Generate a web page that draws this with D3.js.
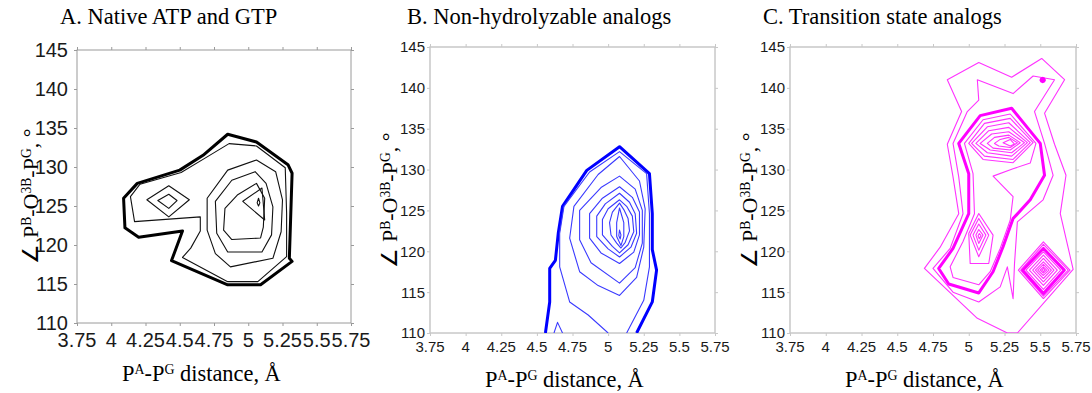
<!DOCTYPE html>
<html>
<head>
<meta charset="utf-8">
<script src="https://cdn.jsdelivr.net/npm/d3@7"></script>
<style>
  body { margin: 0; background: #fff; }
</style>
</head>
<body>
<div id="chart"></div>
<script>
// axis ticks
const xTicks = [3.75, 4, 4.25, 4.5, 4.75, 5, 5.25, 5.5, 5.75];
const yTicks = [110, 115, 120, 125, 130, 135, 140, 145];
const titles = ['A. Native ATP and GTP', 'B. Non-hydrolyzable analogs', 'C. Transition state analogs'];

// contour lines, [P-P distance, angle]

// A. native
const nativeOuter = [[4.09,126.0],[4.19,127.9],[4.50,129.6],[4.67,131.5],[4.85,134.2],[5.06,133.2],[5.29,130.3],[5.32,129.2],[5.30,118.3],[5.32,117.9],[5.09,114.9],[4.85,114.9],[4.44,118.0],[4.52,121.8],[4.20,121.0],[4.10,122.2]];
const native2 = [[4.14,126.2],[4.21,127.8],[4.51,129.3],[4.70,131.3],[4.86,133.0],[5.06,132.7],[5.27,129.9],[5.28,124.1],[5.28,118.5],[5.07,115.3],[4.85,115.3],[4.52,118.4],[4.58,119.6],[4.65,121.8],[4.65,123.6],[4.17,123.0]];
const nativeLeft1 = [[4.26,125.8],[4.42,127.6],[4.57,125.8],[4.42,123.6]];
const nativeLeft2 = [[4.34,125.7],[4.42,126.5],[4.48,125.7],[4.42,124.7]];
const nativeR1 = [[4.70,126.0],[4.85,129.6],[5.06,130.9],[5.20,129.4],[5.25,125.8],[5.24,121.7],[5.18,118.3],[4.87,117.2],[4.76,118.9],[4.70,121.9]];
const nativeR2 = [[4.76,125.6],[4.88,128.3],[5.05,129.4],[5.13,127.9],[5.18,124.9],[5.17,121.3],[5.10,119.1],[4.85,119.1],[4.77,121.5]];
const nativeR3 = [[4.83,124.7],[4.92,126.4],[5.06,127.9],[5.12,126.0],[5.11,122.3],[5.09,120.9],[4.88,120.7],[4.82,121.9]];
const nativeR4 = [[4.96,125.6],[5.10,127.3],[5.12,123.2]];
const nativeR5 = [[5.065,125.4],[5.075,126.0],[5.085,125.4],[5.075,125.0]];

// B. non-hydrolyzable
const analogOuter = [[4.56,110],[4.59,113.8],[4.59,117.9],[4.63,118.9],[4.65,122.2],[4.68,125.5],[4.85,129.9],[5.08,132.8],[5.29,129.5],[5.31,124.6],[5.31,120.2],[5.34,117.7],[5.31,113.8],[5.20,110]];
const analog2 = [[5.00,110],[4.86,112.2],[4.73,113.8],[4.66,118.1],[4.66,122.2],[4.69,125.5],[4.87,129.7],[5.08,132.2],[5.27,129.5],[5.29,124.6],[5.29,118.1],[5.25,114.0],[5.13,110]];
const analogSpike = [[4.62,110],[4.645,111.3],[4.68,110]];
const analogL1 = [[5.08,131.6],[4.93,129.4],[4.76,125.5],[4.73,121.6],[4.80,117.5],[4.93,115.8],[5.08,114.6],[5.20,116.8],[5.25,120.5],[5.26,125.2],[5.22,128.6]];
const analogL2 = [[5.08,129.2],[4.95,127.8],[4.80,125.0],[4.80,121.4],[4.88,118.6],[5.08,116.1],[5.19,118.0],[5.24,121.0],[5.24,125.0],[5.19,127.6]];
const analogL3 = [[5.08,127.9],[4.96,126.5],[4.87,124.6],[4.87,121.6],[4.95,119.8],[5.08,118.5],[5.18,119.9],[5.22,122.0],[5.22,124.8],[5.17,126.6]];
const analogL4 = [[5.08,127.1],[4.98,125.8],[4.92,124.3],[4.92,121.8],[5.00,120.3],[5.08,119.3],[5.16,120.5],[5.20,122.2],[5.19,124.6],[5.15,126.0]];
const analogL5 = [[5.08,126.3],[5.00,125.2],[4.96,123.9],[4.96,122.0],[5.03,120.6],[5.08,119.8],[5.14,120.8],[5.18,122.4],[5.17,124.3],[5.13,125.5]];
const analogL6 = [[5.08,125.9],[5.03,124.8],[5.01,123.5],[5.02,122.0],[5.06,121.0],[5.09,120.4],[5.12,121.1],[5.15,122.5],[5.14,124.0],[5.11,125.1]];
const analogL7 = [[5.08,125.3],[5.06,123.5],[5.06,121.8],[5.09,120.7],[5.11,121.8],[5.11,123.5]];
const analogL8 = [[5.08,122.6],[5.075,121.9],[5.085,121.5],[5.09,122.0]];

// C. transition state
const tsOuter1 = [[4.85,141.0],[5.07,143.1],[5.30,141.3],[5.51,143.6],[5.67,141.0],[5.53,136.9],[5.60,133.1],[5.68,129.3],[5.64,124.6],[5.73,117.8],[5.34,110.0],[5.27,110.0],[5.06,111.8],[4.69,117.9],[4.80,120.5],[4.93,124.6],[4.89,129.1],[4.85,133.1],[4.95,137.1]];
const tsOuter2 = [[5.06,141.0],[5.31,139.3],[5.45,141.45],[5.60,141.0],[5.46,137.1],[5.53,133.2],[5.59,129.3],[5.52,126.3],[5.34,123.6],[5.32,118.5],[5.31,114.2],[5.27,118.1],[5.22,115.65],[5.07,113.8],[4.89,115.0],[4.75,117.9],[4.87,120.35],[4.96,124.6],[4.93,129.1],[4.89,133.2],[4.99,137.1],[5.07,138.5]];
const tsMain = [[4.93,133.2],[5.08,136.6],[5.30,137.5],[5.50,133.2],[5.53,129.3],[5.43,126.3],[5.31,124.0],[5.24,120.55],[5.17,117.5],[5.07,114.9],[4.86,116.0],[4.79,117.9],[4.89,120.35],[5.00,124.6],[5.00,129.5]];
const tsInner = [[4.97,133.2],[5.10,136.1],[5.29,136.8],[5.47,133.2],[5.43,130.8],[5.31,130.1],[5.17,129.2],[5.31,126.7],[5.29,123.8],[5.22,120.35],[5.15,117.5],[5.07,115.9],[4.89,116.8],[4.87,118.1],[4.96,121.2],[5.04,124.6],[5.03,129.5]];
const tsUpper1 = [[5.00,133.2],[5.11,135.65],[5.29,136.27],[5.45,133.29],[5.31,130.84],[5.10,131.24]];
const tsUpper2 = [[5.02,133.2],[5.13,135.24],[5.28,135.73],[5.43,133.29],[5.31,131.24],[5.11,131.65]];
const tsUpper3 = [[5.05,133.2],[5.14,134.76],[5.28,135.16],[5.41,133.29],[5.30,131.65],[5.13,132.06]];
const tsUpper4 = [[5.08,133.2],[5.16,134.35],[5.28,134.63],[5.39,133.29],[5.30,132.06],[5.15,132.39]];
const tsUpper5 = [[5.13,133.2],[5.18,133.94],[5.28,134.22],[5.36,133.29],[5.29,132.39],[5.17,132.63]];
const tsUpper6 = [[5.18,133.2],[5.22,133.69],[5.28,133.94],[5.34,133.29],[5.29,132.71],[5.21,132.88]];
const tsUpper7 = [[5.24,133.29],[5.29,133.69],[5.32,133.12],[5.29,132.88]];
const tsLower1 = [[5.00,122.18],[5.07,124.63],[5.17,121.98],[5.14,118.51],[5.01,118.51]];
const tsLower2 = [[5.01,121.98],[5.07,124.02],[5.14,121.98],[5.07,119.33]];
const tsLower3 = [[5.03,121.98],[5.07,123.33],[5.12,121.98],[5.07,120.14]];
const tsLower4 = [[5.05,121.98],[5.07,122.67],[5.10,121.98],[5.07,120.96]];
const tsLower5 = [[5.065,121.9],[5.074,122.18],[5.086,121.9],[5.074,121.53]];
const tsDiamond1 = [[5.347,117.69],[5.522,121.16],[5.708,117.69],[5.522,114.22]];
const tsDiamond2 = [[5.363,117.69],[5.522,120.84],[5.696,117.69],[5.522,114.51]];
const tsDiamond3 = [[5.377,117.69],[5.522,120.35],[5.668,117.69],[5.522,114.84]];
const tsDiamond4 = [[5.400,117.69],[5.522,119.94],[5.643,117.69],[5.522,115.33]];
const tsDiamond5 = [[5.424,117.69],[5.522,119.53],[5.619,117.69],[5.522,115.82]];
const tsDiamond6 = [[5.447,117.69],[5.522,119.12],[5.596,117.69],[5.522,116.27]];
const tsDiamond7 = [[5.466,117.69],[5.522,118.71],[5.578,117.69],[5.522,116.67]];
const tsDiamond8 = [[5.482,117.69],[5.522,118.39],[5.561,117.69],[5.522,117.04]];
const tsDiamond9 = [[5.498,117.69],[5.522,118.10],[5.545,117.69],[5.522,117.33]];
const tsDiamond10 = [[5.510,117.69],[5.522,117.90],[5.533,117.69],[5.522,117.53]];
const tsRing = [[5.505,140.96],[5.509,141.11],[5.517,141.17],[5.525,141.11],[5.529,140.96],[5.525,140.81],[5.517,140.75],[5.509,140.81]];

const panels = [
  {
    title: titles[0], left: 77, top: 50, width: 274, height: 273,
    tickFont: 20, frame: '#9a9a9a', frameW: 1, color: '#000', thin: '#111',
    titleX: 60, xLabelX: 122, xLabelY: 381, yLabelX: 38, yLabelY: 196, xTickDy: 24, yTickDx: 9,
    lines: [
      [nativeOuter, true, true], [native2, false, true], [nativeLeft1, false, true], [nativeLeft2, false, true],
      [nativeR1, false, true], [nativeR2, false, true], [nativeR3, false, true], [nativeR4, false, true], [nativeR5, false, true]
    ]
  },
  {
    title: titles[1], left: 430, top: 47, width: 285, height: 286,
    tickFont: 15, frame: '#c8c8c8', frameW: 1.5, color: '#0000ff', thin: '#3a3aff',
    titleX: 407, xLabelX: 485, xLabelY: 387, yLabelX: 397, yLabelY: 200, xTickDy: 19, yTickDx: 5,
    lines: [
      [analogOuter, true, false], [analog2, false, false], [analogSpike, false, false],
      [analogL1, false, true], [analogL2, false, true], [analogL3, false, true], [analogL4, false, true],
      [analogL5, false, true], [analogL6, false, true], [analogL7, false, true], [analogL8, false, true]
    ]
  },
  {
    title: titles[2], left: 790, top: 47, width: 286, height: 286,
    tickFont: 15, frame: '#c8c8c8', frameW: 1.5, color: '#ff00ff', thin: '#ff33ff',
    titleX: 763, xLabelX: 845, xLabelY: 387, yLabelX: 757, yLabelY: 200, xTickDy: 19, yTickDx: 5,
    lines: [
      [tsOuter1, false, true], [tsOuter2, false, true], [tsMain, true, true], [tsInner, false, true],
      [tsUpper1, false, true], [tsUpper2, false, true], [tsUpper3, false, true], [tsUpper4, false, true],
      [tsUpper5, false, true], [tsUpper6, false, true], [tsUpper7, false, true],
      [tsLower1, false, true], [tsLower2, false, true], [tsLower3, false, true], [tsLower4, false, true], [tsLower5, false, true],
      [tsDiamond1, false, true], [tsDiamond2, false, true], [tsDiamond3, true, true], [tsDiamond4, false, true],
      [tsDiamond5, false, true], [tsDiamond6, false, true], [tsDiamond7, false, true], [tsDiamond8, false, true],
      [tsDiamond9, false, true], [tsDiamond10, false, true], [tsRing, true, true]
    ]
  }
];

const svg = d3.select('#chart')
  .append('svg')
    .attr('width', 1092)
    .attr('height', 393);

// text with superscripts: parts are [text, isSup]
function richText(sel, parts, size) {
  parts.forEach(([t, sup], i) => {
    const prevSup = i > 0 && parts[i - 1][1];
    let dy = 0;
    if (sup && !prevSup) dy = -size * 0.33;
    if (!sup && prevSup) dy = size * 0.33;
    sel.append('tspan')
      .attr('dy', dy)
      .attr('font-size', sup ? size * 0.62 : size)
      .text(t);
  });
}

const xLabelParts = [['P', false], ['A', true], ['-P', false], ['G', true], [' distance, \u00C5', false]];
const yLabelParts = [['\u2220 P', false], ['B', true], ['-O', false], ['3B', true], ['-P', false], ['G', true], [', \u00B0', false]];

panels.forEach((p, pi) => {
  const x = d3.scaleLinear().domain([3.75, 5.75]).range([p.left, p.left + p.width]);
  const y = d3.scaleLinear().domain([110, 145]).range([p.top + p.height, p.top]);

  const g = svg.append('g');

  const clipId = 'clip' + pi;
  g.append('clipPath').attr('id', clipId)
    .append('rect')
      .attr('x', p.left).attr('y', p.top)
      .attr('width', p.width).attr('height', p.height);

  // ticks on all four sides
  const tickStyle = a => a.selectAll('line').attr('stroke', p.frame).attr('stroke-width', 1);
  g.append('g').attr('transform', `translate(0,${p.top + p.height})`)
    .call(d3.axisBottom(x).tickValues(xTicks).tickSize(3).tickFormat(''))
    .call(a => a.select('.domain').remove()).call(tickStyle);
  g.append('g').attr('transform', `translate(0,${p.top})`)
    .call(d3.axisTop(x).tickValues(xTicks).tickSize(3).tickFormat(''))
    .call(a => a.select('.domain').remove()).call(tickStyle);
  g.append('g').attr('transform', `translate(${p.left},0)`)
    .call(d3.axisLeft(y).tickValues(yTicks).tickSize(3).tickFormat(''))
    .call(a => a.select('.domain').remove()).call(tickStyle);
  g.append('g').attr('transform', `translate(${p.left + p.width},0)`)
    .call(d3.axisRight(y).tickValues(yTicks).tickSize(3).tickFormat(''))
    .call(a => a.select('.domain').remove()).call(tickStyle);

  g.append('rect')
    .attr('x', p.left).attr('y', p.top)
    .attr('width', p.width).attr('height', p.height)
    .attr('fill', 'none')
    .attr('stroke', p.frame)
    .attr('stroke-width', p.frameW);

  // tick labels
  g.selectAll('.xl').data(xTicks).enter().append('text')
    .attr('x', d => x(d))
    .attr('y', p.top + p.height + p.xTickDy)
    .attr('text-anchor', 'middle')
    .attr('font-family', 'Liberation Sans, Arial, sans-serif')
    .attr('font-size', p.tickFont)
    .attr('fill', '#1a1a1a')
    .text(d => d);
  g.selectAll('.yl').data(yTicks).enter().append('text')
    .attr('x', p.left - p.yTickDx)
    .attr('y', d => y(d))
    .attr('dy', '0.36em')
    .attr('text-anchor', 'end')
    .attr('font-family', 'Liberation Sans, Arial, sans-serif')
    .attr('font-size', p.tickFont)
    .attr('fill', '#1a1a1a')
    .text(d => d);

  // contours
  const plot = g.append('g').attr('clip-path', `url(#${clipId})`);
  p.lines.forEach(([pts, thick, closed]) => {
    const line = d3.line()
      .x(d => x(d[0]))
      .y(d => y(d[1]))
      .curve(closed ? d3.curveLinearClosed : d3.curveLinear);
    plot.append('path')
      .attr('d', line(pts))
      .attr('fill', 'none')
      .attr('stroke', thick ? p.color : p.thin)
      .attr('stroke-width', thick ? 3 : 1.1)
      .attr('stroke-linejoin', 'round');
  });

  // titles and axis labels
  svg.append('text')
    .attr('x', p.titleX).attr('y', 24)
    .attr('font-family', 'Liberation Serif, Times New Roman, serif')
    .attr('font-size', 22.5)
    .attr('fill', '#000')
    .text(p.title);

  const xl = svg.append('text')
    .attr('x', p.xLabelX).attr('y', p.xLabelY)
    .attr('font-family', 'Liberation Serif, Times New Roman, serif')
    .attr('fill', '#000');
  richText(xl, xLabelParts, 22.4);

  const yl = svg.append('text')
    .attr('transform', `translate(${p.yLabelX},${p.yLabelY}) rotate(-90)`)
    .attr('text-anchor', 'middle')
    .attr('font-family', 'Liberation Serif, Times New Roman, serif')
    .attr('fill', '#000');
  richText(yl, yLabelParts, 22);
});
</script>
</body>
</html>
